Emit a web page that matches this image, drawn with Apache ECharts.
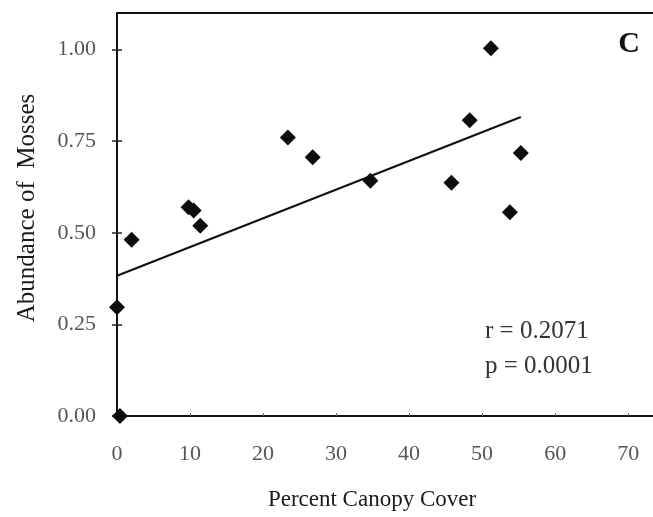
<!DOCTYPE html>
<html>
<head>
<meta charset="utf-8">
<script src="https://cdn.jsdelivr.net/npm/echarts@6/dist/echarts.min.js"></script>
<style>
html,body{margin:0;padding:0;background:#fff;}
#chart{width:653px;height:517px;}
</style>
</head>
<body>
<div id="chart"></div>
<script>
// Data
var canopyCover = [0, 0.4, 2.0, 9.8, 10.5, 11.4, 23.4, 26.8, 34.7, 45.8, 48.3, 51.2, 53.8, 55.3];
var mossAbundance = [0.297, 0.00, 0.481, 0.570, 0.561, 0.519, 0.760, 0.706, 0.642, 0.637, 0.807, 1.004, 0.556, 0.718];
var trendX = [0, 55.3];
var trendY = [0.383, 0.816];
var xTicks = [0, 10, 20, 30, 40, 50, 60, 70];
var yTicks = [0, 0.25, 0.5, 0.75, 1.0];
var statLines = ['r = 0.2071', 'p = 0.0001'];
var panelLabel = 'C';
var xTitle = 'Percent Canopy Cover';
var yTitle = 'Abundance of  Mosses';

var serif = "'Liberation Serif', 'Times New Roman', serif";
var chart = echarts.init(document.getElementById('chart'), null, {renderer: 'canvas'});

var points = canopyCover.map(function (x, i) { return [x, mossAbundance[i]]; });
var trend = trendX.map(function (x, i) { return [x, trendY[i]]; });

var xBase = {
  type: 'value', min: 0, max: 73.4, splitLine: {show: false}
};
var yBase = {
  type: 'value', min: 0, max: 1.1, splitLine: {show: false}
};

chart.setOption({
  animation: false,
  backgroundColor: '#ffffff',
  grid: {left: 117, top: 13, right: 0, bottom: 101, containLabel: false},
  xAxis: [
    Object.assign({}, xBase, {
      position: 'bottom',
      axisLine: {show: true, onZero: false, lineStyle: {color: '#111', width: 2}},
      axisTick: {show: true, inside: true, length: 3, customValues: xTicks, lineStyle: {color: '#666', width: 1}},
      axisLabel: {
        customValues: xTicks, margin: 27, color: '#555', fontFamily: serif, fontSize: 22,
        formatter: function (v) { return String(v); }
      }
    }),
    Object.assign({}, xBase, {
      position: 'top',
      axisLine: {show: true, onZero: false, lineStyle: {color: '#111', width: 2}},
      axisTick: {show: false},
      axisLabel: {show: false}
    })
  ],
  yAxis: [
    Object.assign({}, yBase, {
      position: 'left',
      axisLine: {show: true, onZero: false, lineStyle: {color: '#111', width: 2}},
      axisTick: {show: false},
      axisLabel: {
        customValues: yTicks, margin: 21, color: '#555', fontFamily: serif, fontSize: 22,
        formatter: function (v) { return v.toFixed(2); }
      }
    }),
    Object.assign({}, yBase, {
      position: 'left',
      offset: -5,
      axisLine: {show: true, onZero: false, lineStyle: {color: 'rgba(0,0,0,0)', width: 1}},
      axisTick: {show: true, inside: false, length: 10, customValues: yTicks, lineStyle: {color: '#222', width: 1.5}},
      axisLabel: {show: false}
    })
  ],
  series: [
    {
      type: 'line',
      data: trend,
      xAxisIndex: 0, yAxisIndex: 0,
      showSymbol: false,
      symbol: 'none',
      lineStyle: {color: '#111', width: 2.2},
      z: 3
    },
    {
      type: 'scatter',
      data: points,
      xAxisIndex: 0, yAxisIndex: 0,
      symbol: 'diamond',
      symbolSize: [16, 16],
      clip: false,
      itemStyle: {color: '#0d0d0d', opacity: 1},
      z: 5
    }
  ],
  graphic: [
    {
      type: 'text',
      style: {
        text: xTitle, x: 372, y: 500, align: 'center', verticalAlign: 'middle',
        font: "23px 'Liberation Serif', serif", fill: '#1a1a1a'
      }
    },
    {
      type: 'text',
      x: 27, y: 208, rotation: Math.PI / 2,
      style: {
        text: yTitle, x: 0, y: 0, align: 'center', verticalAlign: 'middle',
        font: "25px 'Liberation Serif', serif", fill: '#1a1a1a'
      }
    },
    {
      type: 'text',
      style: {
        text: panelLabel, x: 629, y: 44, align: 'center', verticalAlign: 'middle',
        font: "bold 30px 'Liberation Serif', serif", fill: '#111'
      }
    },
    {
      type: 'text',
      style: {
        text: statLines[0], x: 485, y: 331, align: 'left', verticalAlign: 'middle',
        font: "25px 'Liberation Serif', serif", fill: '#333'
      }
    },
    {
      type: 'text',
      style: {
        text: statLines[1], x: 485, y: 366, align: 'left', verticalAlign: 'middle',
        font: "25px 'Liberation Serif', serif", fill: '#333'
      }
    }
  ]
});
</script>
</body>
</html>
